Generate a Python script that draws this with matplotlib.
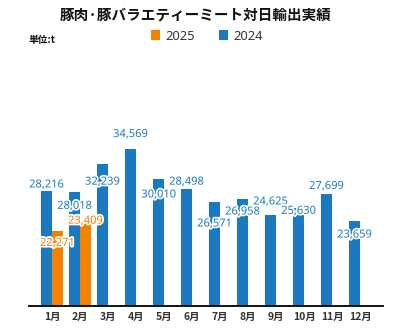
import matplotlib
matplotlib.use("Agg")
import matplotlib.pyplot as plt
import matplotlib.patheffects as pe
import numpy as np

plt.rcParams['font.family'] = ['Noto Sans CJK JP', 'DejaVu Sans']

months = ["1月", "2月", "3月", "4月", "5月", "6月", "7月", "8月", "9月", "10月", "11月", "12月"]
values_2024 = [28216, 28018, 32239, 34569, 30010, 28498, 26571, 26958, 24625, 25630, 27699, 23659]
values_2025 = [22271, 23409]
series_names = ["2025", "2024"]

# label vertical offsets in pixels (positive = up) relative to bar top
label_off_2024 = [6, -14, -18, 14, -16, 7, -22, -12.6, 13, -3, 8, -13.6]
label_off_2025 = [-12.6, 2]

blue = "#1b79bf"
orange = "#f38200"

W, H = 393, 334
fig = plt.figure(figsize=(W / 100, H / 100), dpi=100)
ax_left, ax_right = 29, 383
ax_bottom, ax_top = 306, 60
ax = fig.add_axes([ax_left / W, (H - ax_bottom) / H, (ax_right - ax_left) / W, (ax_bottom - ax_top) / H])

x = np.arange(1, len(months) + 1)
bw = 0.39
ymin = 11000
ymax = ymin + (ax_bottom - ax_top) * 149.7

b24 = ax.bar(x - bw / 2, values_2024, width=bw, color=blue, label=series_names[1], zorder=2)
x25 = x[:len(values_2025)]
b25 = ax.bar(x25 + bw / 2, values_2025, width=bw, color=orange, label=series_names[0], zorder=2)

halo = [pe.withStroke(linewidth=2.5, foreground="white")]
for xi, v, off in zip(x - bw / 2, values_2024, label_off_2024):
    ax.annotate(f"{v:,}", (xi, v), xytext=(0, off), textcoords="offset pixels",
                ha="center", va="center", fontsize=8, fontweight="bold", color=blue,
                family=["Noto Sans", "DejaVu Sans"], path_effects=halo, zorder=5, clip_on=False)
for xi, v, off in zip(x25 + bw / 2, values_2025, label_off_2025):
    ax.annotate(f"{v:,}", (xi, v), xytext=(0, off), textcoords="offset pixels",
                ha="center", va="center", fontsize=8, fontweight="bold", color=orange,
                family=["Noto Sans", "DejaVu Sans"], path_effects=halo, zorder=5, clip_on=False)

ax.set_xlim(1 - 0.82, 12 + 0.82)
ax.set_ylim(ymin, ymax)
ax.set_xticks(x)
ax.set_xticklabels(months, fontsize=7.5, fontweight="bold", color="#333333")
ax.tick_params(axis="x", length=0, pad=4)
ax.set_yticks([])
for s in ["top", "right", "left"]:
    ax.spines[s].set_visible(False)
ax.spines["bottom"].set_color("black")
ax.spines["bottom"].set_linewidth(1.3)
ax.spines["bottom"].set_zorder(6)

fig.text(196 / W, 1 - 15 / H, "豚肉·豚バラエティーミート対日輸出実績", ha="center", va="center",
         fontsize=10.5, fontweight="bold", color="#111111")
fig.text(29 / W, 1 - 40 / H, "単位:t", ha="left", va="center", fontsize=7, fontweight="bold", color="#111111")

leg = fig.legend(handles=[b25, b24], labels=series_names, loc="center", bbox_to_anchor=(207 / W, 1 - 36 / H),
                 ncol=2, frameon=False, fontsize=9.3, handlelength=0.7, handleheight=0.7,
                 handletextpad=0.4, columnspacing=1.9, borderaxespad=0,
                 prop={"family": ["Noto Sans", "DejaVu Sans"], "size": 9.3})
for t in leg.get_texts():
    t.set_color("#333333")

fig.savefig("out.png", dpi=100)
